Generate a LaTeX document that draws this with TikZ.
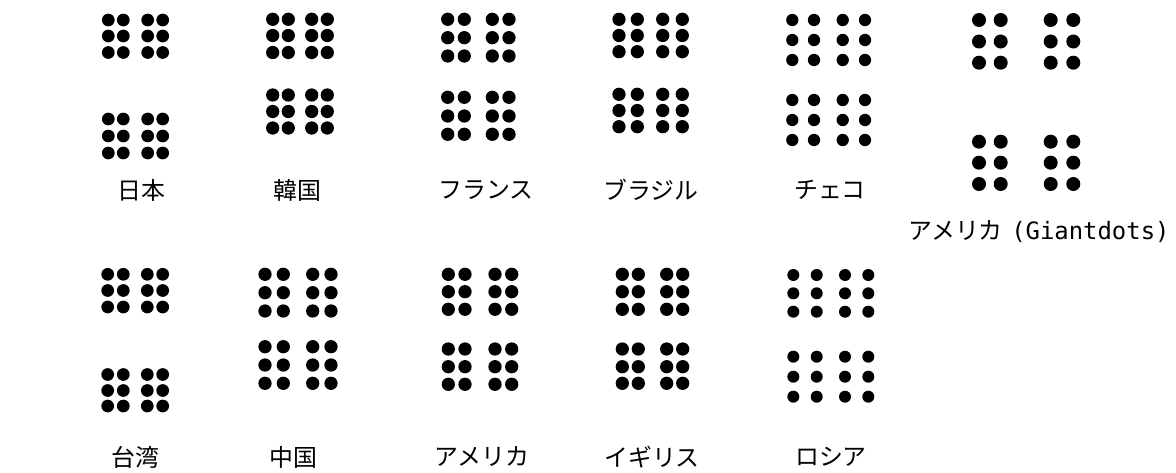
\documentclass[tikz,border=0pt]{standalone}
\usepackage{fontspec}
\newfontfamily\jpfont{Noto Sans CJK JP}
\newfontfamily\latinmono{DejaVu Sans Mono}

\begin{document}
\begin{tikzpicture}[
    x=0.025cm, y=-0.025cm,
    country/.style={font=\jpfont\fontsize{17}{20}\selectfont, inner sep=0pt, anchor=center},
    dot/.style={fill=black}
  ]
  \useasboundingbox (0,0) rectangle (1176,473);

  %% ── Row 1 ──
  % Japan
  \foreach \x in {108.3,123.3,147.7,162.7}
    \foreach \y in {20,36,52.5,119,136,153}
      \fill[dot] (\x,\y) circle[radius=0.159cm];
  \node[country] (japan) at (141,190) {日本};

  % Korea
  \foreach \x in {272.7,288.3,311.7,327.3}
    \foreach \y in {19.3,35.5,52.5,95,111.5,128}
      \fill[dot] (\x,\y) circle[radius=0.166cm];
  \node[country] (korea) at (297,190) {韓国};

  % France
  \foreach \x in {447.7,464.3,492.3,509}
    \foreach \y in {19.3,37.7,56,97.3,116,134.3}
      \fill[dot] (\x,\y) circle[radius=0.166cm];
  \node[country] (france) at (486,190) {フランス};

  % Brazil
  \foreach \x in {619,637.3,662.7,682.3}
    \foreach \y in {19.3,35.5,51.7,94.3,110.5,126.7}
      \fill[dot] (\x,\y) circle[radius=0.166cm];
  \node[country] (brazil) at (651,190) {ブラジル};

  % Czech
  \foreach \x in {792.3,814,842.7,865}
    \foreach \y in {20,40,60,100,120,140}
      \fill[dot] (\x,\y) circle[radius=0.154cm];
  \node[country] (czech) at (830,190) {チェコ};

  % USA, Giantdots
  \foreach \x in {979,1000.7,1050.7,1073.3}
    \foreach \y in {20,41.5,62.7,141.7,162.7,184}
      \fill[dot] (\x,\y) circle[radius=0.175cm];
  \node[country] (giant) at (1039,232) {アメリカ\hspace{0.35em}{\latinmono (Giantdots)}};

  %% ── Row 2 ──
  % Taiwan
  \foreach \x in {107.7,123.3,147.3,162.7}
    \foreach \y in {274.3,290.5,307,374.5,390.5,406}
      \fill[dot] (\x,\y) circle[radius=0.159cm];
  \node[country] (taiwan) at (135,457) {台湾};

  % China
  \foreach \x in {265,283.3,312.7,331}
    \foreach \y in {274.3,292.7,311,346.7,365,383.3}
      \fill[dot] (\x,\y) circle[radius=0.166cm];
  \node[country] (china) at (293,457) {中国};

  % USA
  \foreach \x in {448.3,465,495,511.7}
    \foreach \y in {274.3,291.7,309.3,349,366.7,384.3}
      \fill[dot] (\x,\y) circle[radius=0.166cm];
  \node[country] (usa) at (482,457) {アメリカ};

  % UK
  \foreach \x in {622.3,638.3,666.7,682.7}
    \foreach \y in {274.3,291.7,309.3,349,366.7,383.3}
      \fill[dot] (\x,\y) circle[radius=0.166cm];
  \node[country] (uk) at (652,457) {イギリス};

  % Russia
  \foreach \x in {793.3,816.7,845,868.3}
    \foreach \y in {275,293.3,311.7,356.7,376.7,396.7}
      \fill[dot] (\x,\y) circle[radius=0.15cm];
  \node[country] (russia) at (831,457) {ロシア};

\end{tikzpicture}
\end{document}
